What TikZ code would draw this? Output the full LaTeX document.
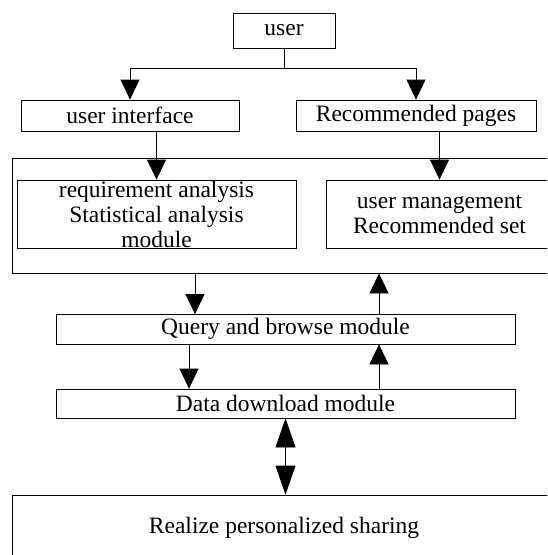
\documentclass[tikz,border=0pt]{standalone}
\usepackage{fontspec}
\setmainfont{Liberation Serif}
\usetikzlibrary{arrows.meta,calc}
\begin{document}
\begin{tikzpicture}[x=1pt,y=-1pt,
  box/.style={draw,line width=0.8pt,inner sep=0pt,anchor=center,
    font=\fontsize{23.5}{25}\selectfont,align=center},
  conn/.style={line width=0.8pt},
  arr/.style={conn,-{Triangle[length=20pt,width=19pt]}},
  dbl/.style={conn,{Triangle[length=29pt,width=20pt]}-{Triangle[length=29pt,width=20pt]}}]
\useasboundingbox (0,0) rectangle (547,555);
\clip (0,0) rectangle (547,555);
\node[box,minimum width=102pt,minimum height=35pt] (user) at (284,30.5) {user};
\node[box,minimum width=218pt,minimum height=31pt] (ui) at (130,115.5) {user interface};
\node[box,minimum width=240pt,minimum height=31pt] (rec) at (416,115.5) {Recommended pages};
\node[box,minimum width=548pt,minimum height=115pt] (big) at (286,215.5) {};
\node[box,minimum width=279pt,minimum height=68pt] (inL) at (156.5,214) {requirement analysis\\Statistical analysis\\module};
\node[box,minimum width=227pt,minimum height=68pt] (inR) at (439.5,214) {user management\\Recommended set};
\node[box,minimum width=459pt,minimum height=29.5pt] (query) at (285.5,329.25) {Query and browse module};
\node[box,minimum width=459pt,minimum height=29pt] (data) at (285.5,403.5) {Data download module};
\node[box,minimum width=544pt,minimum height=66pt] (real) at (284,528) {Realize personalized sharing};
\coordinate (j) at (284,68);
\coordinate (xa) at (195,0);
\coordinate (xb) at (379,0);
\coordinate (xc) at (189,0);
\draw[conn] (user.south) -- (j);
\draw[arr] (j) -| (ui.north);
\draw[arr] (j) -| (rec.north);
\draw[arr] (inL.north |- ui.south) -- (inL.north);
\draw[arr] (inR.north |- rec.south) -- (inR.north);
\draw[arr] (xa |- big.south) -- (xa |- query.north);
\draw[arr] (xb |- query.north) -- (xb |- big.south);
\draw[arr] (xc |- query.south) -- (xc |- data.north);
\draw[arr] (xb |- data.north) -- (xb |- query.south);
\draw[dbl] (data.south) -- (data.south |- real.north);
\end{tikzpicture}
\end{document}
